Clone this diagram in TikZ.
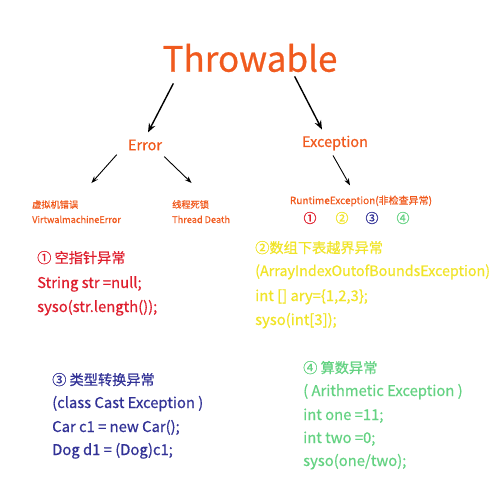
\documentclass[tikz,border=0pt]{standalone}
\usepackage{fontspec}
\setmainfont{Noto Sans CJK SC}[FakeBold=0.6]
\usepackage{tikz}
\usetikzlibrary{arrows.meta}

\definecolor{throworange}{RGB}{240,90,30}
\definecolor{nullred}{RGB}{222,30,45}
\definecolor{arryellow}{RGB}{240,228,40}
\definecolor{castblue}{RGB}{50,50,150}
\definecolor{mathgreen}{RGB}{100,210,130}

\tikzset{
    bigarr/.style={-{Stealth[length=9pt,width=7pt]}, line width=1.4pt},
    smallarr/.style={-{Stealth[length=7pt,width=5pt]}, line width=0.9pt},
    codeline/.style={anchor=base west, inner sep=0pt, font=\fontsize{14.8}{16}\selectfont},
    headline/.style={anchor=base west, inner sep=0pt, font=\fontsize{14.2}{16}\selectfont},
    tinyline/.style={anchor=base west, inner sep=0pt, text=throworange, font=\fontsize{9.2}{11}\selectfont},
    circnum/.style={inner sep=0pt, font=\fontsize{13}{14}\selectfont}
}

\begin{document}
\begin{tikzpicture}[x=1pt, y=-1pt]
                    \useasboundingbox (0,0) rectangle (500,500);
                    % top of the tree
                    \node[inner sep=0pt, text=throworange, font=\fontsize{35}{38}\selectfont] (throw) at (250,58) {Throwable};
                    \node[inner sep=0pt, text=throworange, font=\fontsize{14.5}{16}\selectfont] (err) at (145,145) {Error};
                    \node[inner sep=0pt, text=throworange, font=\fontsize{14.5}{16}\selectfont] (exc) at (335,143) {Exception};
                    \draw[bigarr]([xshift=11pt, yshift=-11pt]throw.south west)--([xshift=3pt, yshift=7pt]err.north);
                    \draw[bigarr]([xshift=-43pt, yshift=-4pt]throw.south east)--([xshift=-13pt, yshift=6pt]exc.north);
                    % under Error
                    \node[tinyline] (vm) at (32,208) {虚拟机错误};
                    \node[tinyline] (vmname) at (32,223) {VirtwalmachineError};
                    \node[tinyline] (td) at (172,208) {线程死锁};
                    \node[tinyline] (tdname) at (172,223) {Thread Death};
                    \draw[smallarr]([xshift=-11pt, yshift=-4pt]err.south west)--([xshift=13pt, yshift=17pt]vm.north east);
                    \draw[smallarr]([xshift=2pt, yshift=-6pt]err.south east)--([xshift=1pt, yshift=17pt]td.north);
                    % under Exception
                    \node[inner sep=0pt, text=throworange, font=\fontsize{10}{12}\selectfont] (rt) at (361,201) {RuntimeException(非检查异常)};
                    \draw[smallarr]([xshift=-2pt, yshift=-5pt]exc.south)--([xshift=-11pt, yshift=10pt]rt.north);
                    \node[circnum, text=nullred] (c1) at (310,218) {①};
                    \node[circnum, text=arryellow] (c2) at (342,218) {②};
                    \node[circnum, text=castblue] (c3) at (372,218) {③};
                    \node[circnum, text=mathgreen] (c4) at (403,218) {④};
                    % the four cases
                    \node[headline, text=nullred] (nulla) at (37,263) {① 空指针异常};
                    \node[codeline, text=nullred] (nullb) at (37,288) {String str =null;};
                    \node[codeline, text=nullred] (nullc) at (37,312) {syso(str.length());};
                    \node[headline, text=arryellow] (arra) at (255,253) {②数组下表越界异常};
                    \node[codeline, text=arryellow, font=\fontsize{14.3}{16}\selectfont] (arrb) at (255,276) {(ArrayIndexOutofBoundsException)};
                    \node[codeline, text=arryellow] (arrc) at (255,301) {int [] ary=\{1,2,3\};};
                    \node[codeline, text=arryellow] (arrd) at (255,325) {syso(int[3]);};
                    \node[headline, text=castblue] (casta) at (52,385) {③ 类型转换异常};
                    \node[codeline, text=castblue] (castb) at (52,408) {(class Cast Exception )};
                    \node[codeline, text=castblue] (castc) at (52,432) {Car c1 = new Car();};
                    \node[codeline, text=castblue] (castd) at (52,455) {Dog d1 = (Dog)c1;};
                    \node[headline, text=mathgreen] (matha) at (303,373) {④ 算数异常};
                    \node[codeline, text=mathgreen] (mathb) at (303,396) {( Arithmetic Exception )};
                    \node[codeline, text=mathgreen] (mathc) at (303,420) {int one =11;};
                    \node[codeline, text=mathgreen] (mathd) at (303,443) {int two =0;};
                    \node[codeline, text=mathgreen] (mathe) at (303,466) {syso(one/two);};
                \end{tikzpicture}
\end{document}
